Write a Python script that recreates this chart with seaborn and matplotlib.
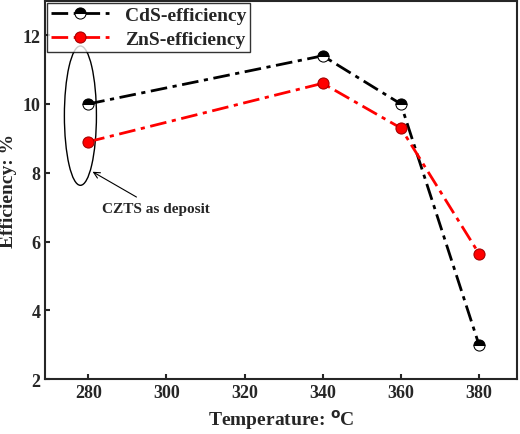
import seaborn as sns
import pandas as pd
import matplotlib.pyplot as plt
from matplotlib.patches import Ellipse

temperature = [280, 340, 360, 380]
cds_eff = [10.0, 11.4, 10.0, 3.0]
zns_eff = [8.9, 10.6, 9.3, 5.65]
xticks = [280, 300, 320, 340, 360, 380]
yticks = [2, 4, 6, 8, 10, 12]

df = pd.DataFrame({'T': temperature, 'CdS': cds_eff, 'ZnS': zns_eff})

sns.set_style('ticks')
plt.rcParams['font.family'] = ['Liberation Serif', 'DejaVu Serif']
plt.rcParams['font.weight'] = 'bold'

fig = plt.figure(figsize=(5.2, 4.35), dpi=100)
ax = fig.add_axes([0.087, 0.126, 0.907, 0.87])

sns.lineplot(data=df, x='T', y='CdS', ax=ax, color='black', lw=2,
             linestyle=(0, (6, 2, 1.5, 2)), marker='o', markersize=8,
             fillstyle='top', markerfacecolor='black', markerfacecoloralt='white',
             markeredgecolor='black', label='CdS-efficiency')
sns.lineplot(data=df, x='T', y='ZnS', ax=ax, color='red', lw=2,
             linestyle=(0, (6, 2, 1.5, 2)), marker='o', markersize=8,
             markerfacecolor='red', markeredgecolor='#a00000', label='ZnS-efficiency')

ax.add_patch(Ellipse((278, 9.66), 8.2, 4.05, fill=False, edgecolor='black', lw=1))
ax.annotate('CZTS as deposit', xy=(280.5, 8.07), xytext=(283.5, 6.97),
            fontsize=11, fontweight='bold', va='center',
            arrowprops=dict(arrowstyle='->', color='black', lw=0.8))

ax.set_xlim(269, 389.7)
ax.set_ylim(2, 13)
ax.set_xticks(xticks)
ax.set_yticks(yticks)
ax.tick_params(labelsize=13, direction='in', width=1.5)
for s in ax.spines.values():
    s.set_linewidth(1.5)
ax.set_xlabel('Temperature: $^{\\mathrm{o}}$C', fontsize=14, fontweight='bold')
ax.set_ylabel('Efficiency: %', fontsize=14, fontweight='bold')
leg = ax.legend(loc='upper left', frameon=True, fancybox=False, handlelength=3,
                prop={'weight': 'bold', 'size': 14}, borderaxespad=0.1,
                borderpad=0.2, labelspacing=0.3)
leg.get_frame().set_edgecolor('black')
leg.get_frame().set_linewidth(1.0)

fig.savefig('out.png')
